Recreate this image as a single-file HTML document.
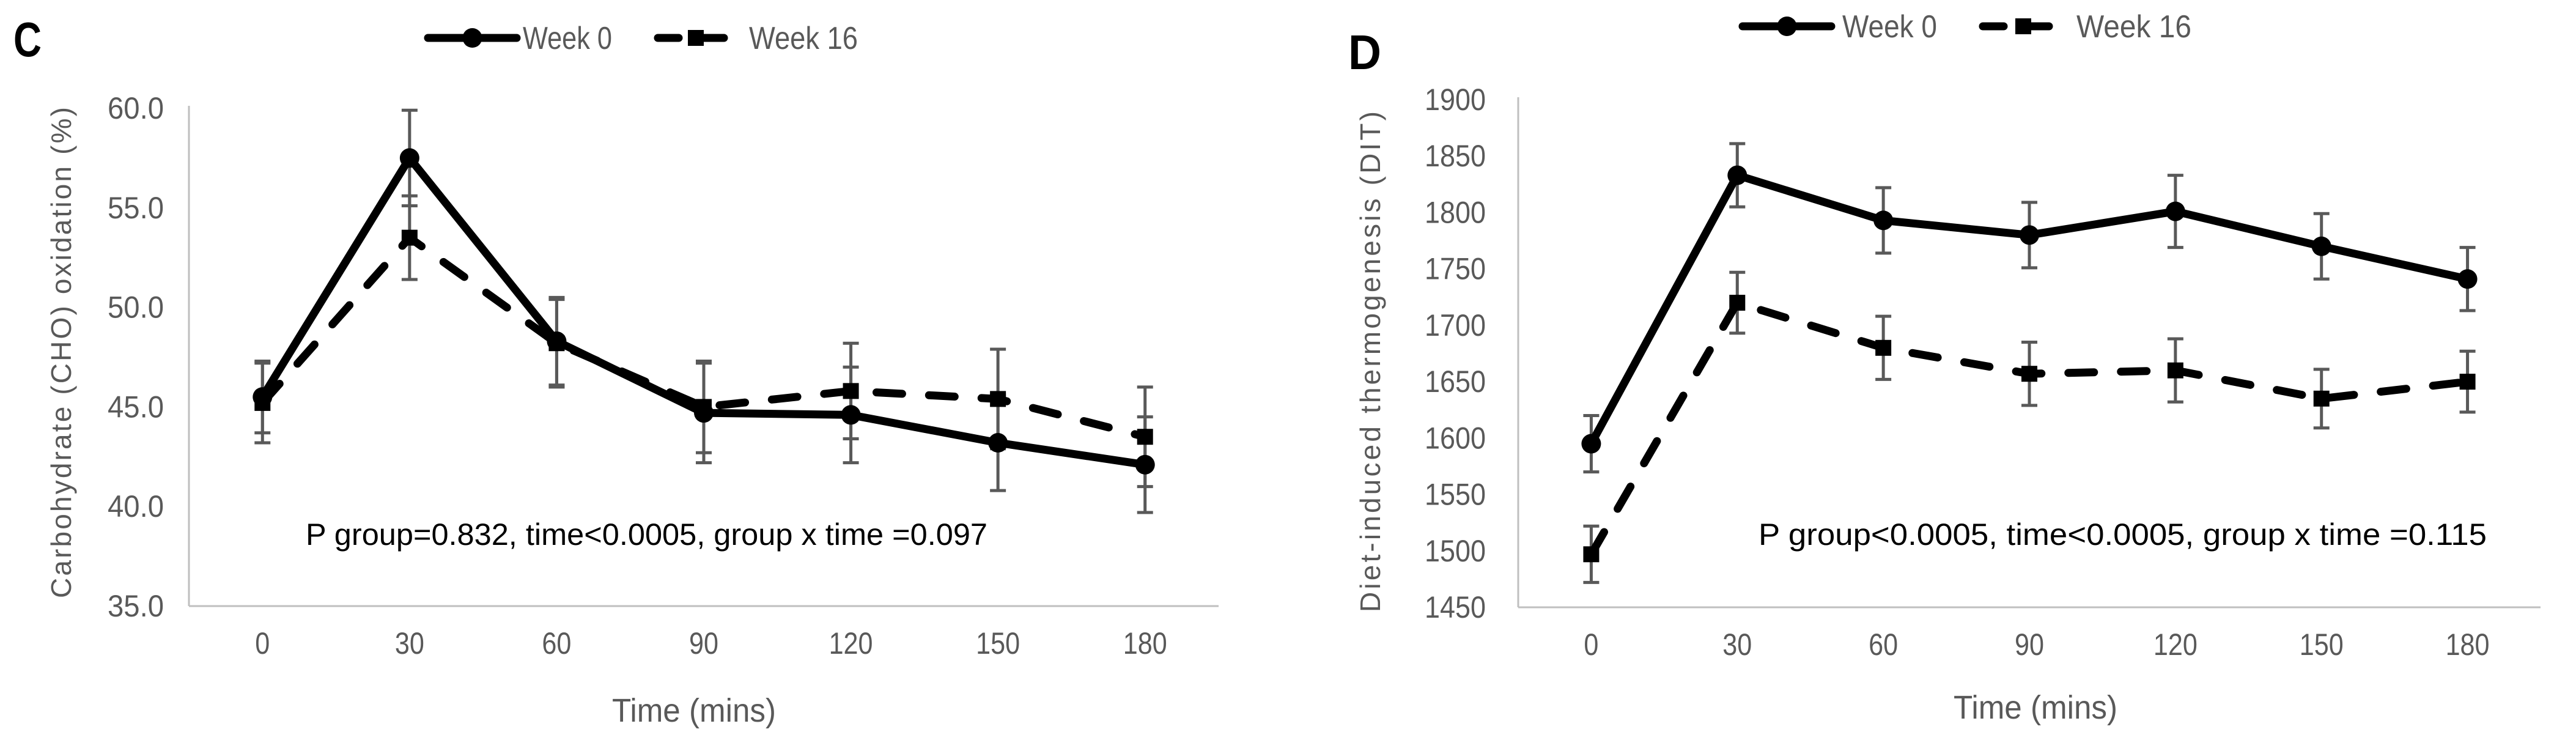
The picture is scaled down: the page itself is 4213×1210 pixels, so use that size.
<!DOCTYPE html>
<html><head><meta charset="utf-8"><style>
html,body{margin:0;padding:0;background:#fff;}
svg{display:block;font-family:"Liberation Sans",sans-serif;}
</style></head><body>
<svg id="root" width="4213" height="1210" viewBox="0 0 4213 1210" xmlns="http://www.w3.org/2000/svg"></svg>
<script>
const categories = ["0","30","60","90","120","150","180"];
const cWeek0 = [45.5, 57.5, 48.3, 44.7, 44.6, 43.2, 42.1];
const cWeek0Err = [1.8, 2.4, 2.2, 2.5, 2.4, 2.4, 2.4];
const cWeek16 = [45.2, 53.5, 48.2, 45.0, 45.8, 45.4, 43.5];
const cWeek16Err = [2.0, 2.1, 2.2, 2.3, 2.4, 2.5, 2.5];
const cTicks = ["35.0","40.0","45.0","50.0","55.0","60.0"];
const dWeek0 = [1595, 1833, 1793, 1780, 1801, 1770, 1741];
const dWeek0Err = [25, 28, 29, 29, 32, 29, 28];
const dWeek16 = [1497, 1720, 1680, 1657, 1660, 1635, 1650];
const dWeek16Err = [25, 27, 28, 28, 28, 26, 27];
const dTicks = ["1450","1500","1550","1600","1650","1700","1750","1800","1850","1900"];

const NS = "http://www.w3.org/2000/svg";
const root = document.getElementById("root");
function mk(tag, attrs, parent, text){
  const e = document.createElementNS(NS, tag);
  for (const k in attrs) e.setAttribute(k, attrs[k]);
  if (text !== undefined) e.textContent = text;
  (parent||root).appendChild(e);
  return e;
}

function drawChart(cfg){
  const g = mk("g", {});
  
  
  const ymin = parseFloat(cfg.ticks[0]), ymax = parseFloat(cfg.ticks[cfg.ticks.length-1]);
  const ys = v => cfg.bottom - (v - ymin) / (ymax - ymin) * (cfg.bottom - cfg.top);
  const band = (cfg.right - cfg.left) / categories.length;
  const xs = i => cfg.left + band * (i + 0.5);

  const ya = mk("line", {x1:cfg.left, y1:cfg.top-4, x2:cfg.left, y2:cfg.bottom, stroke:"#bfbfbf", "stroke-width":3}, g);
  
  
  const xa = mk("line", {x1:cfg.left, y1:cfg.bottom, x2:cfg.right, y2:cfg.bottom, stroke:"#bfbfbf", "stroke-width":3}, g);
  
  

  cfg.ticks.forEach(t => {
    const tl = mk("text", {x:cfg.tickRight, y:ys(parseFloat(t))+17, "text-anchor":"end", "font-size":50, fill:"#595959", textLength:cfg.tickLen*t.length, lengthAdjust:"spacingAndGlyphs"}, g, t);
    
    
  });
  categories.forEach((c,i) => {
    const tl = mk("text", {x:xs(i), y:cfg.bottom+78, "text-anchor":"middle", "font-size":50, fill:"#595959", textLength:24*c.length, lengthAdjust:"spacingAndGlyphs"}, g, c);
    
    
  });

  const yt = mk("text", {transform:`translate(${cfg.ytX},${(cfg.ytY0+cfg.ytY1)/2}) rotate(-90)`, "text-anchor":"middle", "font-size":46, fill:"#595959", textLength:cfg.ytY1-cfg.ytY0, lengthAdjust:"spacing"}, g, cfg.ytitle);
  
  
  const xt = mk("text", {x:cfg.xtX, y:cfg.xtY, "text-anchor":"middle", "font-size":54, fill:"#595959", textLength:268, lengthAdjust:"spacingAndGlyphs"}, g, "Time (mins)");
  
  

  const pl = mk("text", {x:cfg.panelX, y:cfg.panelY, "font-size":80, "font-weight":"bold", fill:"#000", textLength:cfg.panelW, lengthAdjust:"spacingAndGlyphs"}, g, cfg.panel);
  
  

  const an = mk("text", {x:cfg.annX0, y:cfg.annY+18, "font-size":50, fill:"#000", textLength:cfg.annX1-cfg.annX0, lengthAdjust:"spacingAndGlyphs"}, g, cfg.ann);
  
  

  function errs(vals, e, nm){
    vals.forEach((v,i) => {
      const x = xs(i), y1 = ys(v+e[i]), y2 = ys(v-e[i]);
      const eb = mk("path", {d:`M${x},${y1}V${y2}M${x-13},${y1}H${x+13}M${x-13},${y2}H${x+13}`, stroke:"#595959", "stroke-width":5, fill:"none"}, g);
      
      
    });
  }
  errs(cfg.w0, cfg.w0e, 'error-bar-week-0');
  errs(cfg.w16, cfg.w16e, 'error-bar-week-16');

  const p16 = mk("polyline", {points:cfg.w16.map((v,i)=>xs(i)+","+ys(v)).join(" "), fill:"none", stroke:"#000", "stroke-width":13, "stroke-dasharray":"42 44", "stroke-linecap":"round", "stroke-linejoin":"round"}, g);
  
  
  const p0 = mk("polyline", {points:cfg.w0.map((v,i)=>xs(i)+","+ys(v)).join(" "), fill:"none", stroke:"#000", "stroke-width":13, "stroke-linejoin":"round"}, g);
  
  
  cfg.w16.forEach((v,i) => {
    const r = mk("rect", {x:xs(i)-13, y:ys(v)-13, width:26, height:26, fill:"#000"}, g);
    
    
  });
  cfg.w0.forEach((v,i) => {
    const c = mk("circle", {cx:xs(i), cy:ys(v), r:16, fill:"#000"}, g);
    
    
  });

  const L = cfg.leg;
  const lg = mk("g", {}, g);
  
  
  const l0 = mk("line", {x1:L.a0, y1:L.y, x2:L.a1, y2:L.y, stroke:"#000", "stroke-width":13, "stroke-linecap":"round"}, lg);
  
  
  mk("circle", {cx:(L.a0+L.a1)/2, cy:L.y, r:16, fill:"#000"}, lg);
  const t0 = mk("text", {x:L.t0, y:L.y+18, "font-size":52, fill:"#595959", textLength:L.t0w, lengthAdjust:"spacingAndGlyphs"}, lg, "Week 0");
  
  
  const l1 = mk("line", {x1:L.b0+8, y1:L.y, x2:L.b1, y2:L.y, stroke:"#000", "stroke-width":13, "stroke-dasharray":"34 40", "stroke-linecap":"round"}, lg);
  
  
  mk("rect", {x:(L.b0+L.b1)/2-13, y:L.y-13, width:26, height:26, fill:"#000"}, lg);
  const t1 = mk("text", {x:L.t1, y:L.y+18, "font-size":52, fill:"#595959", textLength:L.t1w, lengthAdjust:"spacingAndGlyphs"}, lg, "Week 16");
  
  
}

drawChart({name:"chart-c-cho-oxidation", left:309, right:1993, top:177, bottom:991, ticks:cTicks,
  tickRight:268, tickLen:23, w0:cWeek0, w0e:cWeek0Err, w16:cWeek16, w16e:cWeek16Err,
  ytitle:"Carbohydrate (CHO) oxidation (%)", ytX:116, ytY0:175, ytY1:978, xtX:1135, xtY:1180,
  panel:"C", panelX:22, panelY:92, panelW:46, ann:"P group=0.832, time<0.0005, group x time =0.097", annX0:500, annX1:1615, annY:873,
  leg:{y:62, a0:700, a1:845, t0:855, t0w:146, b0:1068, b1:1208, t1:1225, t1w:178}});

drawChart({name:"chart-d-diet-induced-thermogenesis", left:2483, right:4155, top:163, bottom:993, ticks:dTicks,
  tickRight:2430, tickLen:25, w0:dWeek0, w0e:dWeek0Err, w16:dWeek16, w16e:dWeek16Err,
  ytitle:"Diet-induced thermogenesis (DIT)", ytX:2257, ytY0:182, ytY1:1001, xtX:3329, xtY:1175,
  panel:"D", panelX:2205, panelY:113, panelW:54, ann:"P group<0.0005, time<0.0005, group x time =0.115", annX0:2876, annX1:4067, annY:873,
  leg:{y:43, a0:2850, a1:2995, t0:3013, t0w:155, b0:3235, b1:3383, t1:3396, t1w:188}});
</script>
</body></html>
